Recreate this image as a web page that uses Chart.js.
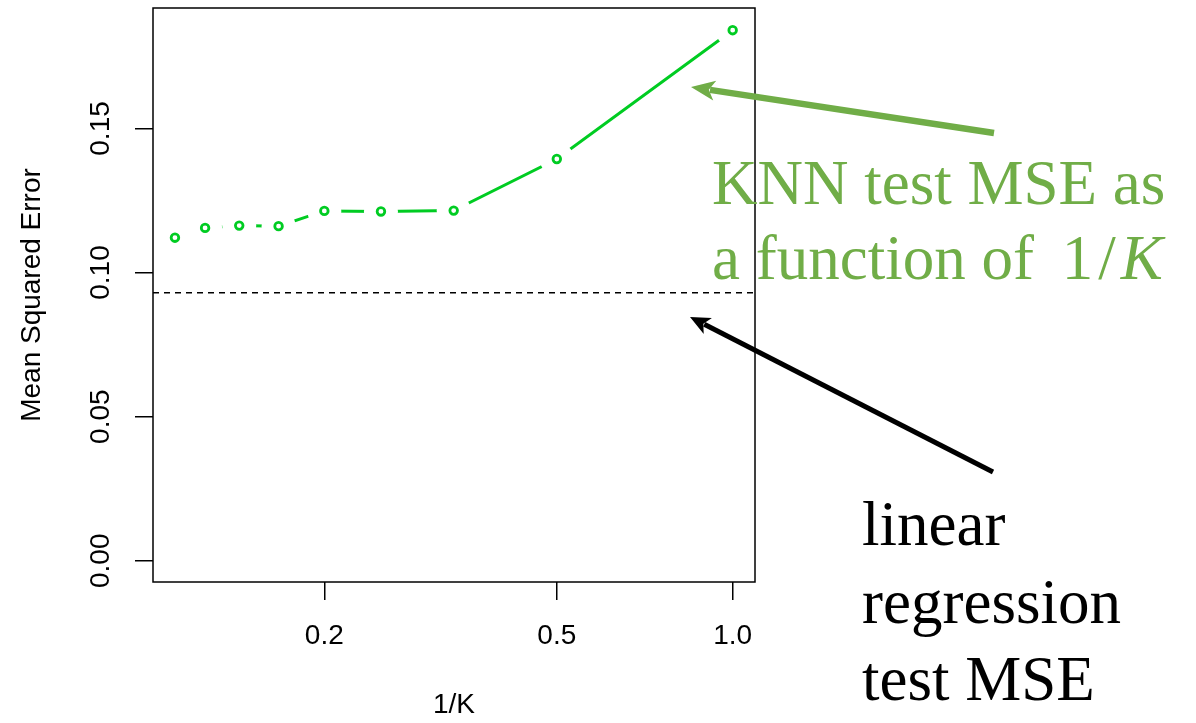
<!DOCTYPE html>
<html>
<head>
<meta charset="utf-8">
<script src="https://cdn.jsdelivr.net/npm/chart.js@4.4.1/dist/chart.umd.min.js"></script>
<style>
html,body{margin:0;padding:0;background:#ffffff;}
#wrap{position:relative;width:1196px;height:723px;overflow:hidden;background:#fff;}
#c{position:absolute;left:0;top:0;}
.note{position:absolute;font-family:"Liberation Serif","Times New Roman",serif;font-size:63px;white-space:nowrap;}
.math{margin-left:12px;letter-spacing:5px;}
.math i{letter-spacing:0;}
</style>
</head>
<body>
<div id="wrap">
<canvas id="c" width="1196" height="723"></canvas>
<div class="note" style="left:712px;top:146px;line-height:75px;color:#70AD47;">KNN test MSE as<br>a function of <span class="math">1/<i>K</i></span></div>
<div class="note" style="left:862px;top:486px;line-height:77.5px;color:#000;">linear<br>regression<br>test MSE</div>
</div>
<script>
// ---- data ----
const invK = [0.111, 0.125, 0.143, 0.167, 0.2, 0.25, 0.333, 0.5, 1.0];
const knnTestMSE = [0.1121, 0.1155, 0.1163, 0.1161, 0.1214, 0.1212, 0.1215, 0.1394, 0.1841];
const linearRegressionMSE = 0.0930;
const xTicks = [0.2, 0.5, 1.0];
const xTickLabels = ['0.2', '0.5', '1.0'];
const yTicks = [0.00, 0.05, 0.10, 0.15];
const yTickLabels = ['0.00', '0.05', '0.10', '0.15'];
const xRange = [0.1018, 1.092];
const yRange = [-0.00738, 0.1918];
const xTitle = '1/K';
const yTitle = 'Mean Squared Error';

// ---- styles ----
const knnGreen = '#00CC22';
const axisFont = {family: '"Liberation Sans", Arial, Helvetica, sans-serif', size: 28};
const arrows = [
  {from: [994, 133], to: [691, 87], color: '#70AD47', width: 6.5, head: 24, half: 10},
  {from: [993, 472], to: [690, 317], color: '#000000', width: 5, head: 20, half: 9}
];

const knnPoints = invK.map((x, i) => ({x: x, y: knnTestMSE[i]}));
const lrLine = [{x: xRange[0], y: linearRegressionMSE}, {x: xRange[1], y: linearRegressionMSE}];

const framePlugin = {
  id: 'frame',
  afterDatasetsDraw(chart) {
    const {ctx, chartArea: a} = chart;
    ctx.save();
    ctx.strokeStyle = '#000';
    ctx.lineWidth = 1.5;
    ctx.strokeRect(a.left, a.top, a.right - a.left, a.bottom - a.top);
    ctx.restore();
  },
  afterDraw(chart) {
    const ctx = chart.ctx;
    ctx.save();
    arrows.forEach(ar => {
      const [x0, y0] = ar.from, [x1, y1] = ar.to;
      const ang = Math.atan2(y1 - y0, x1 - x0);
      const bx = x1 - Math.cos(ang) * ar.head * 0.8, by = y1 - Math.sin(ang) * ar.head * 0.8;
      ctx.strokeStyle = ar.color;
      ctx.fillStyle = ar.color;
      ctx.lineWidth = ar.width;
      ctx.lineCap = 'butt';
      ctx.beginPath(); ctx.moveTo(x0, y0); ctx.lineTo(bx, by); ctx.stroke();
      const hx = x1 - Math.cos(ang) * ar.head, hy = y1 - Math.sin(ang) * ar.head;
      const px = -Math.sin(ang) * ar.half, py = Math.cos(ang) * ar.half;
      ctx.beginPath();
      ctx.moveTo(x1, y1);
      ctx.lineTo(hx + px, hy + py);
      ctx.lineTo(x1 - Math.cos(ang) * ar.head * 0.75, y1 - Math.sin(ang) * ar.head * 0.75);
      ctx.lineTo(hx - px, hy - py);
      ctx.closePath();
      ctx.fill();
    });
    ctx.restore();
  }
};

new Chart(document.getElementById('c'), {
  type: 'scatter',
  data: {
    datasets: [
      {
        label: 'Linear regression test MSE',
        data: lrLine,
        showLine: true,
        borderColor: '#000',
        borderWidth: 1.5,
        borderDash: [6, 5],
        pointRadius: 0,
        fill: false
      },
      {
        label: 'KNN points',
        data: knnPoints,
        showLine: false,
        pointRadius: 3.8,
        pointBorderWidth: 2.8,
        pointBorderColor: knnGreen,
        pointBackgroundColor: '#ffffff'
      },
      {
        label: 'gaps',
        data: knnPoints,
        showLine: false,
        pointRadius: 17,
        pointBorderWidth: 0,
        pointBorderColor: 'rgba(0,0,0,0)',
        pointBackgroundColor: '#ffffff'
      },
      {
        label: 'KNN test MSE',
        data: knnPoints,
        showLine: true,
        borderColor: knnGreen,
        borderWidth: 3,
        pointRadius: 0,
        fill: false
      }
    ]
  },
  options: {
    responsive: false,
    animation: false,
    events: [],
    layout: {autoPadding: false, padding: {left: 0, top: 8, right: 441, bottom: 0}},
    plugins: {legend: {display: false}, tooltip: {enabled: false}},
    scales: {
      x: {
        type: 'logarithmic',
        min: xRange[0],
        max: xRange[1],
        afterBuildTicks: s => { s.ticks = xTicks.map(v => ({value: v})); },
        afterFit: s => { s.height = 141; s.paddingLeft = 0; s.paddingRight = 0; },
        border: {display: false},
        grid: {drawOnChartArea: false, drawTicks: true, tickLength: 18, color: '#000', lineWidth: 1.5},
        ticks: {
          color: '#000', font: axisFont, padding: 19, maxRotation: 0, minRotation: 0, autoSkip: false,
          callback: (v, i) => xTickLabels[i]
        },
        title: {display: true, text: xTitle, color: '#000', font: axisFont, padding: {top: 0, bottom: 1}}
      },
      y: {
        type: 'linear',
        min: yRange[0],
        max: yRange[1],
        afterBuildTicks: s => { s.ticks = yTicks.map(v => ({value: v})); },
        afterFit: s => { s.width = 153; s.paddingTop = 0; s.paddingBottom = 0; },
        border: {display: false},
        grid: {drawOnChartArea: false, drawTicks: true, tickLength: 18, color: '#000', lineWidth: 1.5},
        ticks: {
          color: '#000', font: axisFont, padding: 6, minRotation: 90, maxRotation: 90, crossAlign: 'center', autoSkip: false,
          callback: (v, i) => yTickLabels[i]
        },
        title: {display: true, text: yTitle, color: '#000', font: axisFont, padding: {top: 15, bottom: 0}}
      }
    }
  },
  plugins: [framePlugin]
});
</script>
</body>
</html>
